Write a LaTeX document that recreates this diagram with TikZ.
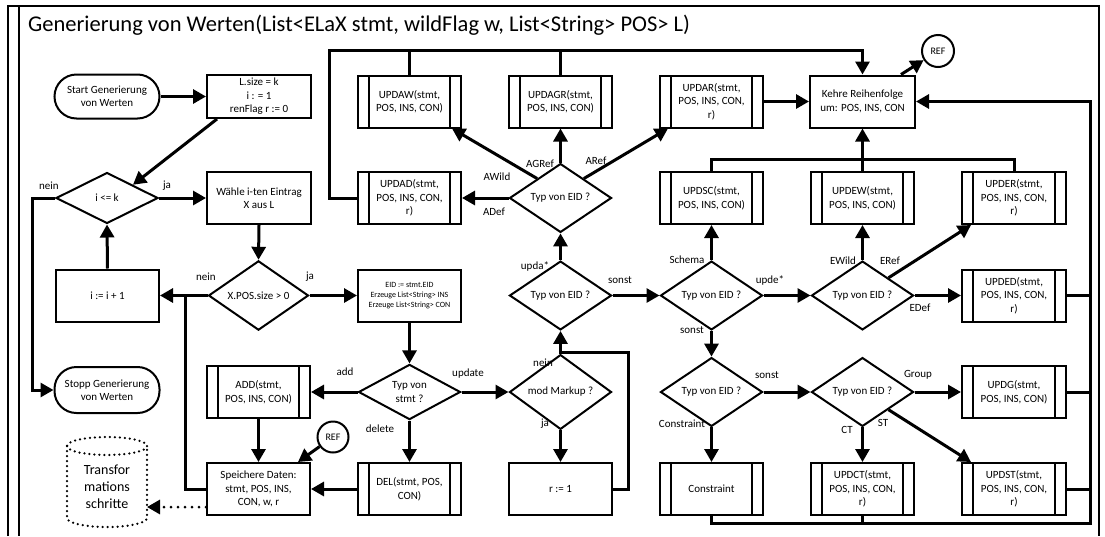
\documentclass[tikz,border=0pt]{standalone}
\usepackage{fontspec}
\setmainfont{Carlito}
\usetikzlibrary{shapes.geometric,arrows.meta,calc}

\begin{document}
\begin{tikzpicture}[x=1pt,y=-1pt,
  every node/.style={font=\fontsize{11}{13.5}\selectfont, inner sep=0pt, align=center},
  box/.style={draw, line width=2pt, minimum width=103pt, minimum height=52pt},
  term/.style={draw, line width=2pt, rounded corners=22pt, minimum width=105pt, minimum height=44pt},
  proc/.style={box, path picture={
      \draw[line width=2pt]
        ([xshift=11pt]path picture bounding box.north west) -- ([xshift=11pt]path picture bounding box.south west)
        ([xshift=-11pt]path picture bounding box.north east) -- ([xshift=-11pt]path picture bounding box.south east);}},
  dia/.style={draw, diamond, line width=2pt, minimum width=102pt, minimum height=51pt},
  refc/.style={draw, circle, line width=2pt, minimum size=31pt, font=\fontsize{10}{12}\selectfont},
  conn/.style={line width=3pt},
  arr/.style={conn, -{Triangle[length=13pt,width=14pt]}},
  dots/.style={line width=2.5pt, line cap=round, dash pattern=on 0pt off 5pt},
  lbl/.style={font=\fontsize{11}{13}\selectfont},
  frame/.style={line width=1.5pt},
]
\useasboundingbox (0,0) rectangle (1105,536);

% outer frame
\draw[frame] (8,536) -- (8,6) -- (1099,6) -- (1099,536);
\draw[frame] (19,6) -- (19,536);

\node[anchor=west, font=\fontsize{22.5}{26}\selectfont] (title) at (28,25)
  {Generierung von Werten(List<ELaX stmt, wildFlag w, List<String> POS> L)};

% left column
\node[term] (start) at (107,96.5) {Start Generierung\\von Werten};
\node[box, minimum width=104pt, minimum height=43pt] (lsize) at (259,96.5) {L.size = k\\i : = 1\\renFlag r := 0};
\node[dia] (ile) at (107,198) {i <= k};
\node[box, minimum width=104pt] (waehle) at (259,198) {Wähle i-ten Eintrag\\X aus L};
\node[dia, minimum width=100pt, minimum height=53pt] (xpos) at (258.5,295.5) {X.POS.size > 0};
\node[box] (inc) at (107.5,295.5) {i := i + 1};
\node[term, minimum height=46pt] (stopp) at (107,390) {Stopp Generierung\\von Werten};
\node[proc] (add) at (258.5,392) {ADD(stmt,\\POS, INS, CON)};
\node[box] (sp) at (258.5,489) {Speichere Daten:\\stmt, POS, INS,\\CON, w, r};
\node[refc] (ref1) at (333,437) {REF};

% data store (dotted cylinder)
\draw[dots] (67,446) -- (67,518) arc[start angle=180, end angle=0, x radius=40, y radius=9] -- (147,446);
\draw[dots] (107,446) ellipse[x radius=40, y radius=9];
\node[font=\fontsize{14}{17}\selectfont] (store) at (107,487) {Transfor\\mations\\schritte};
\coordinate (storeE) at (147,507);

% statement column
\node[box, font=\fontsize{8}{10}\selectfont] (eid) at (409.5,295.5) {EID := stmt.EID\\Erzeuge List<String> INS\\Erzeuge List<String> CON};
\node[dia] (stmt) at (409.5,392) {Typ von\\stmt ?};
\node[proc] (del) at (409.5,489) {DEL(stmt, POS,\\CON)};
\node[proc] (updaw) at (409.5,101.5) {UPDAW(stmt,\\POS, INS, CON)};
\node[proc] (updad) at (409.5,198) {UPDAD(stmt,\\POS, INS, CON,\\r)};

% update column
\node[dia] (mm) at (560.5,392) {mod Markup ?};
\node[box] (r1) at (560.5,489) {r := 1};
\node[dia] (d1) at (560.5,295.5) {Typ von EID ?};
\node[dia] (d2) at (560.5,198) {Typ von EID ?};
\node[proc] (updagr) at (560.5,101.5) {UPDAGR(stmt,\\POS, INS, CON)};
\node[proc] (updar) at (711.5,101.5) {UPDAR(stmt,\\POS, INS, CON,\\r)};

% right part
\node[box, minimum width=105pt] (kehre) at (862.5,101.5) {Kehre Reihenfolge\\um: POS, INS, CON};
\node[refc, minimum size=32pt] (ref2) at (938,51) {REF};
\node[proc] (updsc) at (711.5,198) {UPDSC(stmt,\\POS, INS, CON)};
\node[proc] (updew) at (862.5,198) {UPDEW(stmt,\\POS, INS, CON)};
\node[proc, minimum width=104pt] (upder) at (1014,198) {UPDER(stmt,\\POS, INS, CON,\\r)};
\node[dia] (d3) at (711.5,295.5) {Typ von EID ?};
\node[dia] (d4) at (862.5,295.5) {Typ von EID ?};
\node[proc, minimum width=104pt] (upded) at (1014,295.5) {UPDED(stmt,\\POS, INS, CON,\\r)};
\node[dia] (d5) at (711.5,392) {Typ von EID ?};
\node[dia] (d6) at (862.5,392) {Typ von EID ?};
\node[proc, minimum width=104pt] (updg) at (1014,392) {UPDG(stmt,\\POS, INS, CON)};
\node[proc] (cons) at (711.5,489) {Constraint};
\node[proc] (updct) at (862.5,489) {UPDCT(stmt,\\POS, INS, CON,\\r)};
\node[proc, minimum width=104pt] (updst) at (1014,489) {UPDST(stmt,\\POS, INS, CON,\\r)};

% helper points of the routed lines
\coordinate (jn) at (185,295.5);
\coordinate (jr) at (560.5,352);
\coordinate (topL) at (329,50);
\coordinate (sumY) at (711.5,159);
\coordinate (busB) at (1090,523);

% connectors: loop over the list
\draw[arr] (start.east) -- (lsize.west);
\draw[arr] ($(lsize.south west)+(11,0)$) -- ($(ile.north)!0.5!(ile.east)$);
\draw[arr] (ile.east) -- (waehle.west);
\draw[arr] (waehle.south) -- (xpos.north);
\draw[arr] (xpos.west) -- (inc.east);
\draw[arr] (inc.north) -- (ile.south);
\draw[arr] (ile.west) -- ++(-23,0) |- (stopp.west);
\draw[arr] (xpos.east) -- (eid.west);
\draw[arr] (eid.south) -- (stmt.north);
\draw[arr] (stmt.west) -- (add.east);
\draw[arr] (stmt.south) -- (del.north);
\draw[arr] (stmt.east) -- (mm.west);
\draw[arr] (add.south) -- (sp.north);
\draw[arr] (del.west) -- (sp.east);
\draw[arr] (ref1) -- ($(sp.north east)+(-13,0)$);
\draw[conn] (sp.west) -| (jn);
\draw[conn, line cap=round, dash pattern=on 0pt off 7pt, -{Triangle[length=13pt,width=14pt]}] ($(sp.west)+(0,18)$) -- (storeE);

% connectors: update branch
\draw[arr] (mm.south) -- (r1.north);
\draw[arr] (mm.north) -- (d1.south);
\draw[conn] (r1.east) -- ++(15,0) |- (jr);
\draw[arr] (d1.north) -- (d2.south);
\draw[arr] (d1.east) -- (d3.west);
\draw[arr] (d2.west) -- (updad.east);
\draw[arr] ($(d2.north)!0.45!(d2.west)$) -- ($(updaw.south east)+(-10,0)$);
\draw[arr] (d2.north) -- (updagr.south);
\draw[arr] ($(d2.north)!0.45!(d2.east)$) -- ($(updar.south west)+(9,0)$);
\draw[arr] (updad.west) -| (topL) -| (kehre.north);
\draw[conn] (updaw.north) -- (updaw.north |- topL);
\draw[conn] (updagr.north) -- (updagr.north |- topL);
\draw[arr] (updar.east) -- (kehre.west);
\draw[arr] ($(kehre.north east)+(-15,0)$) -- (ref2);
\draw[arr] (updew.north) -- (kehre.south);
\draw[conn] (updsc.north) -- (updsc.north |- sumY) -| (upder.north);
\draw[arr] (d3.north) -- (updsc.south);
\draw[arr] (d3.east) -- (d4.west);
\draw[arr] (d3.south) -- (d5.north);
\draw[arr] (d4.north) -- (updew.south);
\draw[arr] ($(d4.north)!0.5!(d4.east)$) -- ($(upder.south west)+(10,0)$);
\draw[arr] (d4.east) -- (upded.west);
\draw[arr] (d5.east) -- (d6.west);
\draw[arr] (d5.south) -- (cons.north);
\draw[arr] (d6.east) -- (updg.west);
\draw[arr] (d6.south) -- (updct.north);
\draw[arr] ($(d6.south)!0.5!(d6.east)$) -- ($(updst.north west)+(10,0)$);
\draw[arr] (cons.south) |- (busB) |- (kehre.east);
\draw[conn] (updct.south) -- (updct.south |- busB);
\draw[conn] (upded.east) -- (upded.east -| busB);
\draw[conn] (updg.east) -- (updg.east -| busB);
\draw[conn] (updst.east) -- (updst.east -| busB);

% branch labels
\node[lbl] at (49,186) {nein};
\node[lbl] at (167,186) {ja};
\node[lbl] at (206,277) {nein};
\node[lbl] at (310,277) {ja};
\node[lbl] at (345,372) {add};
\node[lbl] at (468,374) {update};
\node[lbl] at (380,429) {delete};
\node[lbl] at (543,363) {nein};
\node[lbl] at (545,424) {ja};
\node[lbl] at (535,266) {upda*};
\node[lbl] at (620,280) {sonst};
\node[lbl] at (494,212) {ADef};
\node[lbl] at (497,177) {AWild};
\node[lbl] at (540,164) {AGRef};
\node[lbl] at (596,161) {ARef};
\node[lbl] at (687,260) {Schema};
\node[lbl] at (692,330) {sonst};
\node[lbl] at (770,280) {upde*};
\node[lbl] at (843,261) {EWild};
\node[lbl] at (890,261) {ERef};
\node[lbl] at (920,308) {EDef};
\node[lbl] at (767,375) {sonst};
\node[lbl] at (918,375) {Group};
\node[lbl] at (682,424) {Constraint};
\node[lbl] at (847,430) {CT};
\node[lbl] at (883,423) {ST};
\end{tikzpicture}
\end{document}
